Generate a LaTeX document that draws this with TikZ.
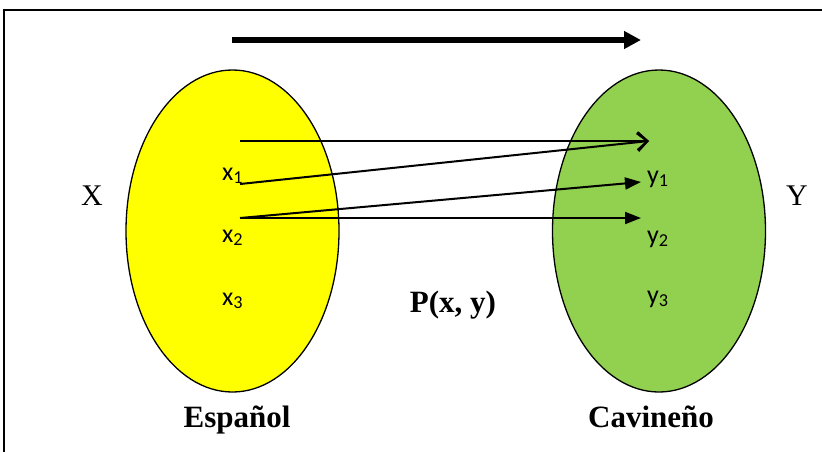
\documentclass[tikz,border=0pt]{standalone}
\usepackage{fontspec}
\setmainfont{Liberation Serif}
\newfontfamily\calib{Carlito}
\usetikzlibrary{arrows.meta,shapes.geometric}
\definecolor{setyellow}{HTML}{FFFF00}
\definecolor{setgreen}{HTML}{92D050}
\begin{document}
\begin{tikzpicture}[x=1pt,y=-1pt,
  setshape/.style={ellipse,draw=black,line width=1.3pt,minimum width=213pt,minimum height=322pt,inner sep=0pt},
  elem/.style={anchor=base west,inner sep=0pt,font=\calib\fontsize{26}{30}\selectfont},
  bigserif/.style={inner sep=0pt,font=\fontsize{30}{34}\selectfont},
  boldlabel/.style={inner sep=0pt,font=\bfseries\fontsize{31}{34}\selectfont},
  maparrow/.style={line width=2pt,-{Triangle[length=16pt,width=12pt]}},
  openarrow/.style={line width=2pt,-{Straight Barb[length=10pt,width=18pt,line width=2pt]}}]
\useasboundingbox (0,0) rectangle (822,451);
% frame
\draw[line width=2pt] (4,460) -- (4,10) -- (830,10);
% top arrow
\coordinate (ta) at (232,40);
\coordinate (tb) at (641,40);
\draw[line width=5.5pt,-{Triangle[length=17pt,width=17pt]}] (ta) -- (tb);
% sets
\node[setshape,fill=setyellow] (X) at (232.5,231) {};
\node[setshape,fill=setgreen] (Y) at (659,231) {};
% elements
\node[elem] (x1) at (222,180) {x\textsubscript{1}};
\node[elem] (x2) at (222,242) {x\textsubscript{2}};
\node[elem] (x3) at (222,305) {x\textsubscript{3}};
\node[elem] (y1) at (647,183) {y\textsubscript{1}};
\node[elem] (y2) at (647,243) {y\textsubscript{2}};
\node[elem] (y3) at (647,303) {y\textsubscript{3}};
% labels
\node[bigserif] (lx) at (92,196) {X};
\node[bigserif] (ly) at (797,196) {Y};
\node[boldlabel,anchor=base] (p) at (453,312) {P(x, y)};
\node[boldlabel,anchor=base] (es) at (237,427) {Español};
\node[boldlabel,anchor=base] (ca) at (651,427) {Cavineño};
% arrow ends
\coordinate (s0) at (240,141);
\coordinate (s1) at (240,184);
\coordinate (s2) at (240,218);
\coordinate (t0) at (649,141);
\coordinate (t1) at (641,182);
\coordinate (t2) at (641,218);
\draw[openarrow] (s0) -- (t0);
\draw[openarrow] (s1) -- (t0);
\draw[maparrow] (s2) -- (t1);
\draw[maparrow] (s2) -- (t2);
\end{tikzpicture}
\end{document}
